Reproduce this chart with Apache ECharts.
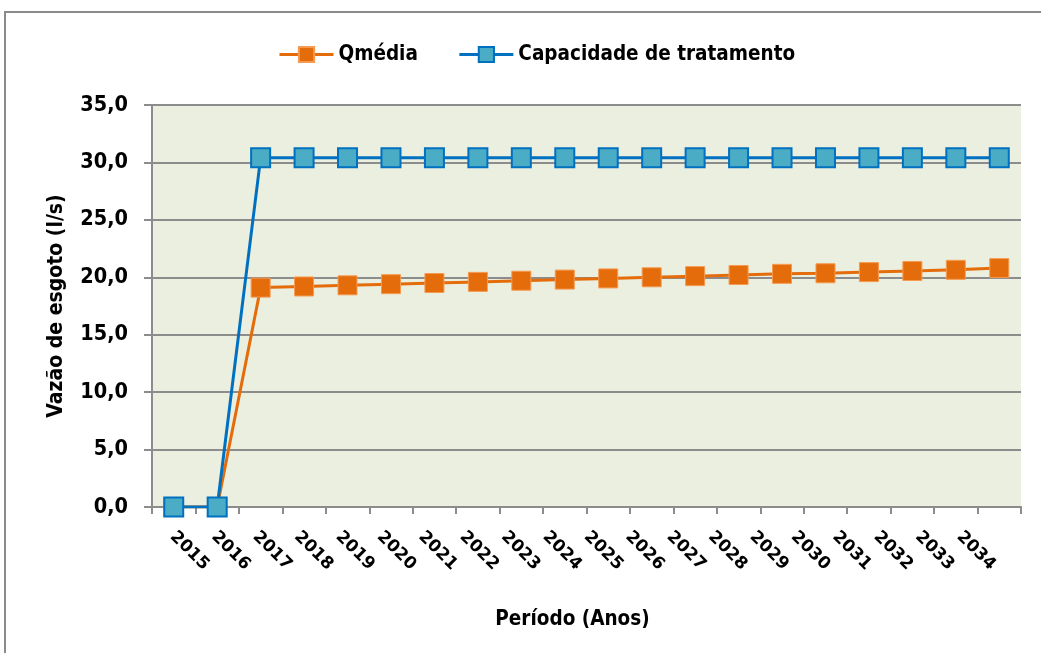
<!DOCTYPE html>
<html>
<head>
<meta charset="utf-8">
<script src="https://cdn.jsdelivr.net/npm/echarts@6/dist/echarts.min.js"></script>
<style>
  html, body { margin: 0; padding: 0; background: #fff; }
  #chart { width: 1041px; height: 653px; }
</style>
</head>
<body>
<div id="chart"></div>
<script>
// dados do gráfico
const anos = ['2015', '2016', '2017', '2018', '2019', '2020', '2021', '2022', '2023', '2024',
  '2025', '2026', '2027', '2028', '2029', '2030', '2031', '2032', '2033', '2034'];
const qMedia = [0, 0, 19.1, 19.2, 19.3, 19.4, 19.5, 19.6, 19.7, 19.8,
  19.9, 20.0, 20.1, 20.2, 20.3, 20.35, 20.45, 20.55, 20.65, 20.8];
const capacidade = [0, 0, 30.4, 30.4, 30.4, 30.4, 30.4, 30.4, 30.4, 30.4,
  30.4, 30.4, 30.4, 30.4, 30.4, 30.4, 30.4, 30.4, 30.4, 30.4];

const fonteNarrow = '"DejaVu Sans Condensed", "Liberation Sans Narrow", sans-serif';

const myChart = echarts.init(document.getElementById('chart'));

const option = {
  animation: false,
  backgroundColor: '#ffffff',
  graphic: [
    {
      type: 'rect',
      shape: { x: 5, y: 12, width: 1100, height: 700 },
      style: { fill: 'none', stroke: '#8a8a8a', lineWidth: 2 },
      silent: true
    }
  ],
  legend: {
    left: 273,
    top: 39,
    itemWidth: 54,
    itemHeight: 19,
    itemGap: 40,
    lineStyle: { width: 3 },
    textStyle: {
      fontFamily: fonteNarrow,
      fontWeight: 'bold',
      fontSize: 20.5,
      color: '#000'
    },
    data: ['Qmédia', 'Capacidade de tratamento']
  },
  grid: [
    { left: 152, right: 20, top: 105, bottom: 146 },
    // grade auxiliar só para os rótulos do eixo x (espaçamento um pouco menor, como no original)
    { left: 152, right: 61, top: 105, bottom: 146 }
  ],
  xAxis: [
    {
      type: 'category',
      data: anos,
      boundaryGap: true,
      name: 'Período (Anos)',
      nameLocation: 'middle',
      nameGap: 102,
      nameTextStyle: {
        fontFamily: fonteNarrow,
        fontWeight: 'bold',
        fontSize: 20.5,
        color: '#000',
        padding: [0, 28, 0, 0]
      },
      axisLine: { lineStyle: { color: '#8c8c8c', width: 2 } },
      axisTick: { show: true, alignWithLabel: false, length: 7, lineStyle: { color: '#8c8c8c', width: 2 } },
      axisLabel: { show: false }
    },
    {
      type: 'category',
      gridIndex: 1,
      data: anos,
      boundaryGap: true,
      axisLine: { show: false },
      axisTick: { show: false },
      splitLine: { show: false },
      axisLabel: {
        interval: 0,
        rotate: -45,
        margin: 27,
        fontFamily: '"DejaVu Sans", sans-serif',
        fontWeight: 'bold',
        fontSize: 17,
        color: '#000'
      }
    }
  ],
  yAxis: [
    {
      type: 'value',
      min: 0,
      max: 35,
      interval: 5,
      name: 'Vazão de esgoto (l/s)',
      nameLocation: 'middle',
      nameGap: 85,
      nameTextStyle: {
        fontFamily: fonteNarrow,
        fontWeight: 'bold',
        fontSize: 21,
        color: '#000'
      },
      axisLine: { show: true, lineStyle: { color: '#8c8c8c', width: 2 } },
      axisTick: { show: true, length: 8, lineStyle: { color: '#8c8c8c', width: 2 } },
      axisLabel: {
        margin: 24,
        fontFamily: fonteNarrow,
        fontWeight: 'bold',
        fontSize: 21.5,
        color: '#000',
        formatter: function (v) {
          return v.toFixed(1).replace('.', ',');
        }
      },
      splitLine: { lineStyle: { color: '#8c8c8c', width: 2 } },
      splitArea: { show: true, areaStyle: { color: ['#ebefdf', '#ebefdf'] } }
    },
    {
      type: 'value',
      gridIndex: 1,
      min: 0,
      max: 35,
      show: false
    }
  ],
  series: [
    {
      name: 'Qmédia',
      type: 'line',
      data: qMedia,
      symbol: 'rect',
      symbolSize: 19,
      lineStyle: { color: '#e46c0a', width: 3 },
      itemStyle: { color: '#e46c0a', borderColor: '#f59a52', borderWidth: 1 }
    },
    {
      name: 'Capacidade de tratamento',
      type: 'line',
      data: capacidade,
      symbol: 'rect',
      symbolSize: 19,
      lineStyle: { color: '#0070c0', width: 3 },
      itemStyle: { color: '#4bacc6', borderColor: '#0070c0', borderWidth: 2 }
    }
  ]
};

myChart.setOption(option);

window.addEventListener('resize', function () {
  myChart.resize();
});
</script>
</body>
</html>
